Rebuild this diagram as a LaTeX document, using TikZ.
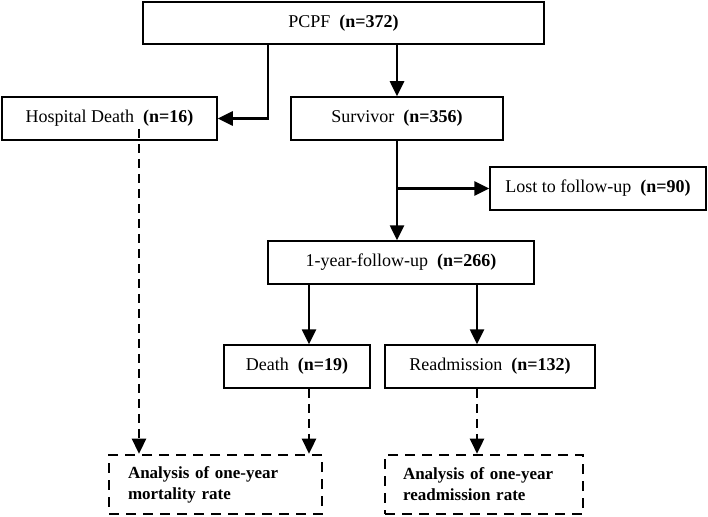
\documentclass[tikz,border=0pt]{standalone}
\usepackage{fontspec}
\setmainfont{Liberation Serif}
\usetikzlibrary{arrows.meta,positioning}

\begin{document}
\begin{tikzpicture}[x=1pt,y=-1pt,>={Triangle[length=15pt,width=14pt]},
    solidbox/.style={draw,line width=1.5pt,inner sep=0pt,minimum height=43pt,font=\fontsize{18}{21}\selectfont},
    dashbox/.style={draw,line width=2.6pt,dash pattern=on 10pt off 7pt,align=left,inner xsep=19pt,inner ysep=0pt,
      minimum height=59pt,text width=175pt,font=\fontsize{17}{21}\selectfont\bfseries},
    flow/.style={->,line width=2.6pt},
    dashflow/.style={->,line width=2.6pt,dash pattern=on 9pt off 6pt}]
  \useasboundingbox (0,0) rectangle (708,516);
  \node[solidbox,minimum width=401pt,minimum height=42pt] (pcpf) at (343.5,23) {PCPF~~\textbf{(n=372)}};
  \node[solidbox,minimum width=215pt] (hosp) at (109.5,118.5) {Hospital Death~~\textbf{(n=16)}};
  \node[solidbox,minimum width=212pt] (surv) at (397,118.5) {Survivor~~\textbf{(n=356)}};
  \node[solidbox,minimum width=216pt] (lost) at (598,188.5) {Lost to follow-up~~\textbf{(n=90)}};
  \node[solidbox,minimum width=266pt] (fy) at (401,262.5) {1-year-follow-up~~\textbf{(n=266)}};
  \node[solidbox,minimum width=146pt] (death) at (297,366.5) {Death~~\textbf{(n=19)}};
  \node[solidbox,minimum width=210pt] (readm) at (490,366.5) {Readmission~~\textbf{(n=132)}};
  \node[dashbox] (anmort) at (215.5,484.5) {Analysis of one-year\\mortality rate};
  \node[dashbox,inner xsep=18pt,text width=162pt] (anread) at (484,484.5) {Analysis of one-year\\readmission rate};
  \coordinate (br) at (268,0);
  \coordinate (hx) at (139,0);
  \coordinate (dx) at (309,0);
  \coordinate (rx) at (477,0);
  \draw[flow] (pcpf.south -| br) |- (hosp.east);
  \draw[flow] (pcpf.south -| surv.north) -- (surv.north);
  \draw[flow] (surv.south) -- (surv.south |- fy.north);
  \draw[flow] (surv.south |- lost.west) -- (lost.west);
  \draw[flow] (fy.south -| dx) -- (death.north -| dx);
  \draw[flow] (fy.south -| rx) -- (readm.north -| rx);
  \draw[dashflow] ([yshift=12pt]hosp.south -| hx) -- (anmort.north -| hx);
  \draw[dashflow] (death.south -| dx) -- (anmort.north -| dx);
  \draw[dashflow] (readm.south -| rx) -- (anread.north -| rx);
\end{tikzpicture}
\end{document}
